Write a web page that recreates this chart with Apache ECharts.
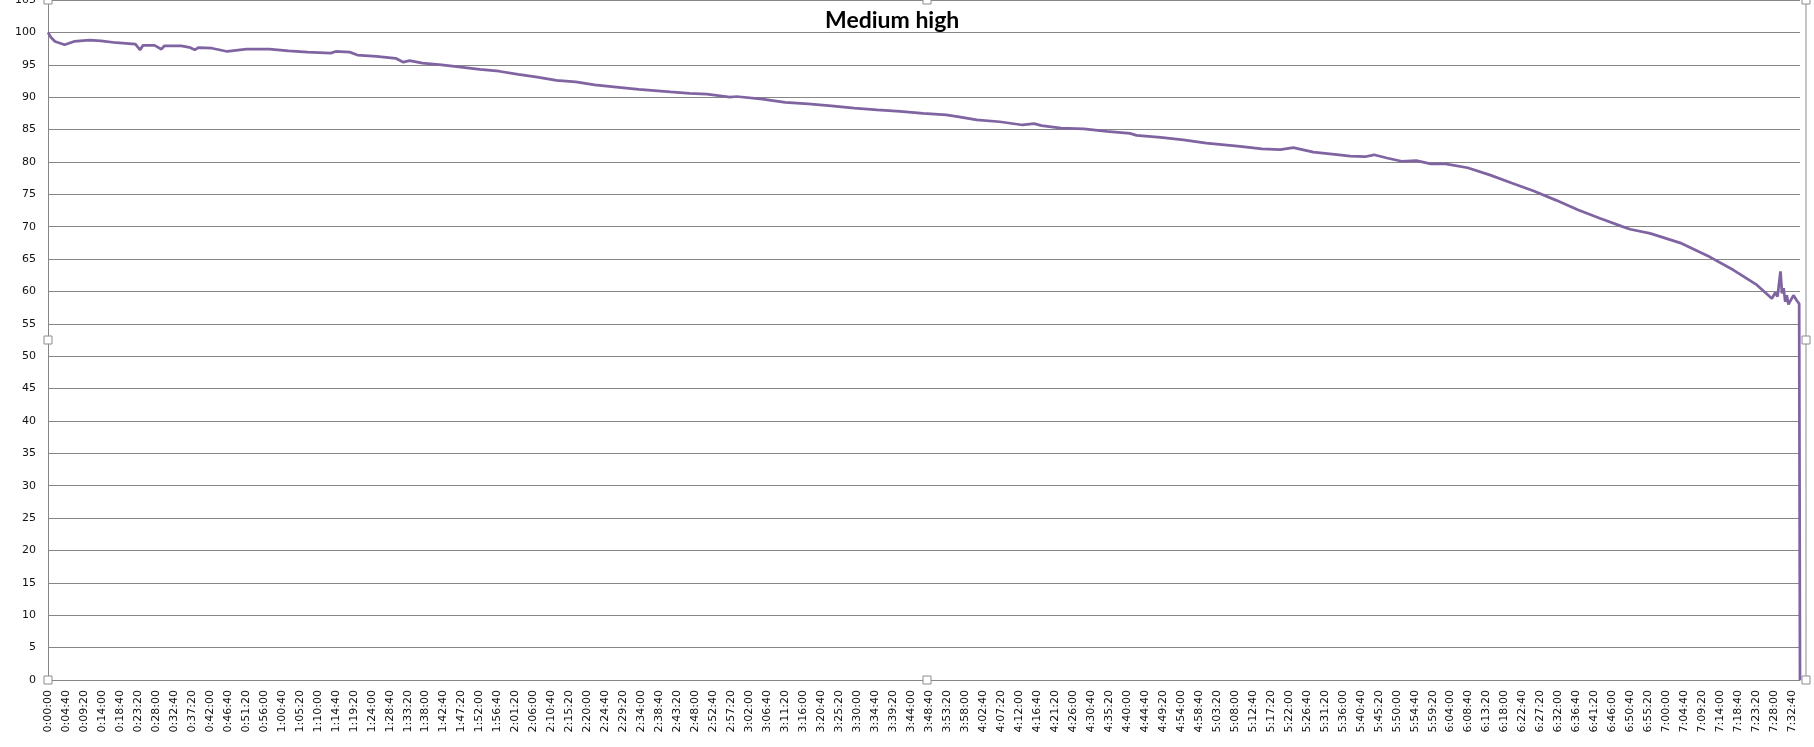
<!DOCTYPE html>
<html lang="en">
<head>
    <meta charset="UTF-8">
    <title>Medium high</title>
    <script src="https://cdn.jsdelivr.net/npm/echarts@6.0.0/dist/echarts.min.js"></script>
    <style>
        html, body { margin: 0; padding: 0; background: #fff; }
    </style>
</head>
<body>
    <div id="main" style="width: 1814px;height:747px;"></div>

    <script>
        // elapsed time in seconds
        var timeSec = [
            0, 40, 109, 259, 406, 646, 824, 1062, 1361, 1433, 1480, 1659, 1766, 1810,
            2076, 2200, 2285, 2340, 2553, 2791, 3090, 3447, 3746, 4043, 4402, 4480,
            4699, 4817, 5116, 5414, 5534, 5630, 5831, 6129, 6428, 6725, 7023, 7322,
            7619, 7917, 8216, 8513, 8811, 9200, 9692, 9991, 10259, 10617, 10720,
            11124, 11480, 11838, 12197, 12553, 12912, 13268, 13627, 13985, 14162,
            14461, 14818, 15176, 15355, 15470, 15773, 16130, 16487, 16846, 16950,
            17322, 17679, 18037, 18561, 18903, 19190, 19389, 19704, 20104, 20276,
            20505, 20647, 20847, 21076, 21304, 21532, 21761, 22104, 22447, 22790,
            23134, 23477, 23819, 24162, 24506, 24635, 24946, 25413, 25880, 26244,
            26608, 26842, 26893, 26930, 26976, 27000, 27025, 27050, 27074, 27100,
            27178, 27230, 27267, 27280
        ];
        // battery level (%)
        var level = [
            100.0, 99.3, 98.6, 98.1, 98.6, 98.8, 98.7, 98.4, 98.2, 97.3, 98.0, 98.0, 97.4, 97.9,
            97.9, 97.7, 97.3, 97.65, 97.55, 97.05, 97.4, 97.4, 97.15, 96.95, 96.8, 97.05,
            96.95, 96.5, 96.3, 96.0, 95.4, 95.65, 95.25, 95.0, 94.65, 94.3, 94.0, 93.5,
            93.1, 92.6, 92.35, 91.9, 91.6, 91.2, 90.8, 90.6, 90.46, 90.0, 90.1,
            89.7, 89.2, 88.97, 88.66, 88.3, 88.04, 87.8, 87.5, 87.27, 87.0,
            86.5, 86.2, 85.7, 85.9, 85.6, 85.2, 85.1, 84.7, 84.4, 84.1,
            83.8, 83.4, 82.9, 82.4, 82.0, 81.9, 82.2, 81.5, 81.1, 80.9,
            80.8, 81.1, 80.6, 80.1, 80.2, 79.7, 79.7, 79.1, 78.0, 76.75,
            75.5, 74.1, 72.6, 71.3, 70.05, 69.6, 68.96, 67.5, 65.3, 63.3,
            61.0, 58.9, 59.8, 59.2, 63.1, 59.7, 60.5, 58.4, 59.4, 58.0,
            59.4, 58.6, 58.1, 0
        ];

        var labelStep = 280;      // one label every 0:04:40
        var endTime = 27280;

        function hms(sec) {
            var h = Math.floor(sec / 3600);
            var m = Math.floor((sec % 3600) / 60);
            var s = sec % 60;
            return h + ':' + (m < 10 ? '0' : '') + m + ':' + (s < 10 ? '0' : '') + s;
        }

        var points = timeSec.map(function(t, i) {
            return [t, level[i]];
        });

        // excel style selection handles round the plot area
        var handles = [];
        [48, 927, 1806].forEach(function(x) {
            [0, 340, 680].forEach(function(y) {
                if (x === 927 && y === 340) return;
                handles.push({
                    type: 'rect',
                    shape: { x: x - 4, y: y - 4, width: 8, height: 8 },
                    style: { fill: '#fff', stroke: '#8c8c8c', lineWidth: 1 },
                    z: 100
                });
            });
        });

        var myChart = echarts.init(document.getElementById('main'));
        var option = {
            animation: false,
            backgroundColor: '#fff',
            title: {
                text: 'Medium high',
                left: 820,
                top: 4,
                textStyle: {
                    fontFamily: 'Lato',
                    fontWeight: 'bold',
                    fontSize: 23,
                    color: '#000'
                }
            },
            grid: {
                left: 48,
                right: 14,
                top: 0,
                bottom: 67,
                containLabel: false,
                outerBoundsMode: 'none'
            },
            xAxis: {
                type: 'value',
                min: 0,
                max: endTime,
                interval: labelStep,
                axisLine: { lineStyle: { color: '#868686', width: 1 } },
                axisTick: { show: false },
                splitLine: { show: false },
                axisLabel: {
                    rotate: 90,
                    margin: 10,
                    showMaxLabel: false,
                    fontFamily: 'DejaVu Sans',
                    fontSize: 11,
                    color: '#111',
                    formatter: function(v) { return hms(v); }
                }
            },
            yAxis: {
                type: 'value',
                min: 0,
                max: 105,
                interval: 5,
                axisLine: { show: true, lineStyle: { color: '#868686', width: 1 } },
                axisTick: { show: false },
                splitLine: { lineStyle: { color: '#868686', width: 1 } },
                axisLabel: {
                    margin: 12,
                    fontFamily: 'DejaVu Sans',
                    fontSize: 11,
                    color: '#111'
                }
            },
            series: [
                {
                    name: 'Medium high',
                    type: 'line',
                    data: points,
                    showSymbol: false,
                    lineStyle: { color: '#8064A2', width: 2.75 },
                    itemStyle: { color: '#8064A2' }
                }
            ],
            graphic: [
                {
                    type: 'line',
                    shape: { x1: 1806, y1: 0, x2: 1806, y2: 680 },
                    style: { stroke: '#c6c6c6', lineWidth: 2 },
                    z: 90
                }
            ].concat(handles)
        };

        myChart.setOption(option);
    </script>
</body>
</html>
